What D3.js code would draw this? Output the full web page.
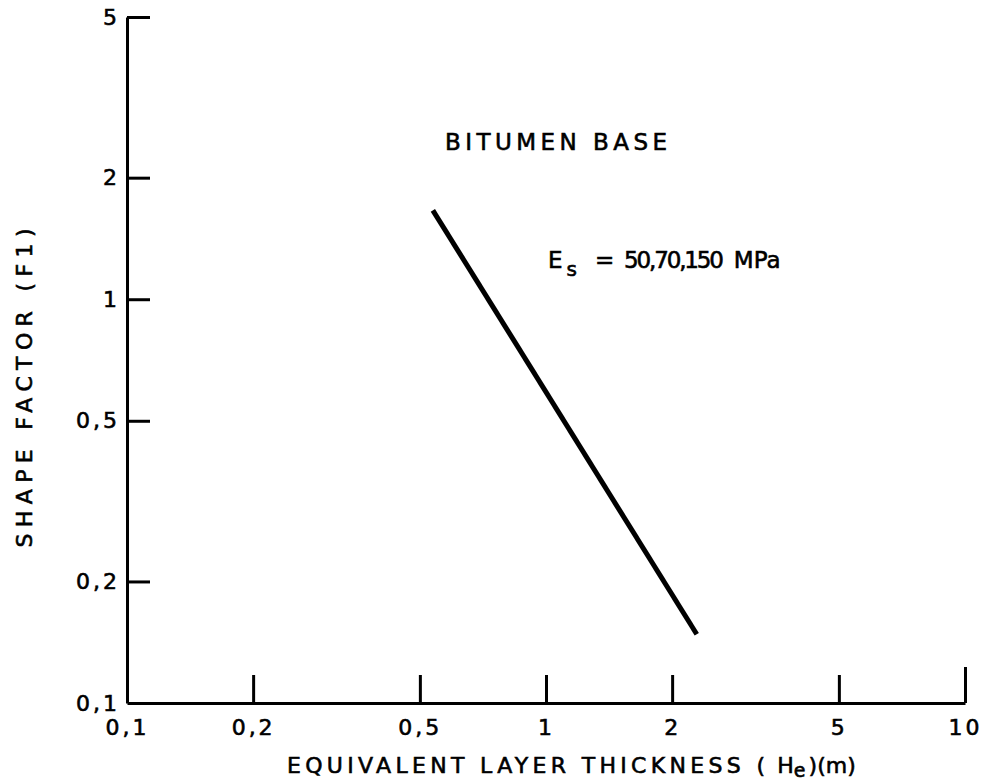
<!DOCTYPE html>
<html>
<head>
<meta charset="utf-8">
<script src="https://cdn.jsdelivr.net/npm/d3@7"></script>
<style>
  body { margin: 0; background: #fff; }
  svg { display: block; }
  text { font-family: "DejaVu Sans", sans-serif; fill: #000; stroke: #000; stroke-width: 0.6px; }
</style>
</head>
<body>
<div id="chart"></div>
<script>
// valeurs (echelles log-log)
const xTicks = [0.1, 0.2, 0.5, 1, 2, 5, 10]
const xTickLabels = ["0,1", "0,2", "0,5", "1", "2", "5", "10"]
const yTicks = [0.1, 0.2, 0.5, 1, 2, 5]
const yTickLabels = ["0,1", "0,2", "0,5", "1", "2", "5"]

// la droite "bitumen base"
const thickness = [0.537, 2.29]
const shapeFactor = [1.66, 0.148]

const width = 987
const height = 783

const svg = d3.select("#chart")
  .append("svg")
  .attr("width", width)
  .attr("height", height)

const x = d3.scaleLog().domain([0.1, 10]).range([127, 965])
const y = d3.scaleLog().domain([0.1, 5]).range([703, 17])

// axe x, ticks vers le haut
const xAxis = d3.axisBottom(x)
  .tickValues(xTicks)
  .tickFormat((d, i) => xTickLabels[i])
  .tickSizeInner(-28)
  .tickSizeOuter(0)
  .tickPadding(16)

const gx = svg.append("g")
  .attr("transform", "translate(0," + y(0.1) + ")")
  .call(xAxis)

// axe y, ticks vers la droite
const yAxis = d3.axisLeft(y)
  .tickValues(yTicks)
  .tickFormat((d, i) => yTickLabels[i])
  .tickSizeInner(-23)
  .tickSizeOuter(0)
  .tickPadding(7)

const gy = svg.append("g")
  .attr("transform", "translate(" + x(0.1) + ",0)")
  .call(yAxis)

svg.selectAll(".domain").attr("stroke", "#000").attr("stroke-width", 3)
svg.selectAll(".tick line").attr("stroke", "#000").attr("stroke-width", 3)
svg.selectAll(".tick text")
  .style("font-family", "DejaVu Sans, sans-serif")
  .style("font-size", "22px")
  .style("letter-spacing", "3px")
  .attr("fill", "#000")

// pas de tick a l'origine
gx.selectAll(".tick").filter(d => d == 0.1).select("line").remove()
gy.selectAll(".tick").filter(d => d == 0.1).select("line").remove()
// tick du 10 un peu plus long
gx.selectAll(".tick").filter(d => d == 10).select("line").attr("y2", -36)

// la courbe
const pts = thickness.map((d, i) => [d, shapeFactor[i]])
svg.append("path")
  .datum(pts)
  .attr("fill", "none")
  .attr("stroke", "#000")
  .attr("stroke-width", 5)
  .attr("d", d3.line().x(d => x(d[0])).y(d => y(d[1])))

// textes
svg.append("text")
  .attr("x", 445)
  .attr("y", 150)
  .attr("font-size", 23)
  .attr("textLength", 222)
  .attr("lengthAdjust", "spacing")
  .text("BITUMEN BASE")

const es = svg.append("text")
  .attr("x", 548)
  .attr("y", 268)
  .attr("font-size", 23)
es.append("tspan").text("E")
es.append("tspan").attr("font-size", 20).attr("dy", 8).attr("dx", 4).text("s")
es.append("tspan").attr("x", 595).attr("dy", -8).text("=")
es.append("tspan").attr("x", 624).attr("textLength", 100).attr("lengthAdjust", "spacing").text("50,70,150")
es.append("tspan").attr("dx", 12).text("MPa")

svg.append("text")
  .attr("transform", "translate(32,388) rotate(-90)")
  .attr("text-anchor", "middle")
  .attr("font-size", 22)
  .attr("textLength", 319)
  .attr("lengthAdjust", "spacing")
  .text("SHAPE FACTOR (F1)")

const xl = svg.append("text")
  .attr("x", 287)
  .attr("y", 773)
  .attr("font-size", 22)
xl.append("tspan").attr("textLength", 478).attr("lengthAdjust", "spacing").text("EQUIVALENT LAYER THICKNESS (")
xl.append("tspan").attr("dx", 8).text("H")
xl.append("tspan").attr("font-size", 19).attr("dy", 4).text("e")
xl.append("tspan").attr("dy", -4).attr("dx", 3).text(")(m)")
</script>
</body>
</html>
